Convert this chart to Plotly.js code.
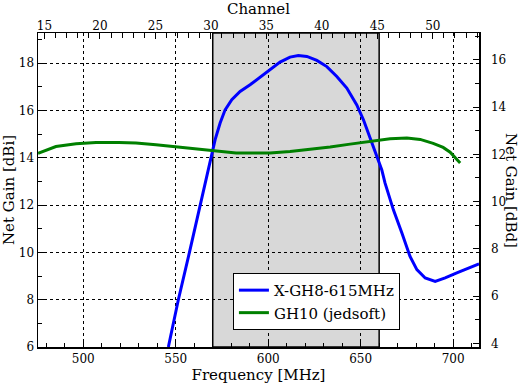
<!DOCTYPE html>
<html>
<head>
<meta charset="utf-8">
<script src="https://cdn.plot.ly/plotly-3.0.1.min.js"></script>
<style>html,body{margin:0;padding:0;background:#fff;}#chart{width:519px;height:386px;}</style>
</head>
<body>
<div id="chart"></div>
<script>
// X-GH8-615MHz net gain (dBi)
const freqBlue = [546, 551.4, 557.4, 563.1, 567.5, 571.3, 574, 576.7, 580.3, 584.8, 590.2, 595.6, 601, 606.4, 611.8, 616.3, 620.9, 626.3, 631.7, 637.1, 642.5, 647.9, 651.5, 655.1, 658.7, 661.4, 663.2, 667.7, 672.3, 676.7, 680.4, 684.9, 690.3, 695.7, 702, 707.4, 714];
const gainBlue = [6.0, 8.0, 10.0, 12.0, 13.55, 14.77, 15.47, 16.03, 16.46, 16.81, 17.09, 17.42, 17.72, 18.05, 18.26, 18.33, 18.29, 18.12, 17.86, 17.44, 16.95, 16.24, 15.61, 14.84, 14.13, 13.5, 12.93, 11.8, 10.82, 9.83, 9.27, 8.92, 8.77, 8.92, 9.13, 9.3, 9.52];
// GH10 (jedsoft) net gain (dBi)
const freqGreen = [475.5, 485.2, 496.1, 506.9, 519.3, 528.5, 539.3, 550.2, 561, 571.8, 582.6, 591.8, 601, 611.8, 622.6, 633.5, 644.3, 655.1, 665.9, 675, 682.2, 689.2, 694.6, 698.4, 703.8];
const gainGreen = [14.19, 14.48, 14.6, 14.65, 14.65, 14.63, 14.55, 14.46, 14.37, 14.27, 14.21, 14.2, 14.2, 14.27, 14.36, 14.46, 14.58, 14.69, 14.81, 14.84, 14.78, 14.61, 14.44, 14.24, 13.78];
const seriesNames = ["X-GH8-615MHz", "GH10 (jedsoft)"];
const bandEdges = [570, 660];
const freqRange = [475.5, 714];
const dBiRange = [6, 19.28];
const dBiToDBd = 2.15;
// UHF channel n centre frequency = 389 + 6n MHz
const chanToFreqOffset = 389, chanWidth = 6;

const chanRange = freqRange.map(f => (f - chanToFreqOffset) / chanWidth);
const dBdRange = dBiRange.map(v => v - dBiToDBd);

const font = "DejaVu Serif, serif";
const axBase = {
  showline: true, linecolor: "#000", linewidth: 1.5,
  ticks: "inside", ticklen: 6, tickwidth: 1, tickcolor: "#000",
  tickfont: {family: font, size: 12, color: "#000"},
  zeroline: false, automargin: false, mirror: false
};

const traces = [
  {x: freqBlue, y: gainBlue, name: seriesNames[0], mode: "lines", line: {color: "#0000ff", width: 3}, xaxis: "x", yaxis: "y"},
  {x: freqGreen, y: gainGreen, name: seriesNames[1], mode: "lines", line: {color: "#008000", width: 3}, xaxis: "x", yaxis: "y"},
  // invisible helper so the channel (top) and dBd (right) axes are drawn
  {x: chanRange, y: dBdRange, mode: "markers", marker: {opacity: 0, size: 1}, showlegend: false, hoverinfo: "skip", xaxis: "x2", yaxis: "y2"}
];

const layout = {
  width: 519, height: 386,
  margin: {l: 38, r: 40, t: 33, b: 39},
  paper_bgcolor: "#fff", plot_bgcolor: "#fff",
  showlegend: true,
  legend: {
    x: 0.442, y: 0.236, xanchor: "left", yanchor: "top",
    bgcolor: "#fff", bordercolor: "#000", borderwidth: 1,
    font: {family: font, size: 15, color: "#000"},
    tracegroupgap: 0, itemwidth: 30
  },
  xaxis: Object.assign({}, axBase, {
    range: freqRange, dtick: 50, tick0: 500,
    minor: {dtick: 10, ticklen: 4, tickcolor: "#000", ticks: "inside"},
    showgrid: true, gridcolor: "#000", griddash: "dot", gridwidth: 1,
    ticklabelstandoff: 0,
    title: {text: "Frequency [MHz]", font: {family: font, size: 15, color: "#000"}, standoff: 2}
  }),
  yaxis: Object.assign({}, axBase, {
    range: dBiRange, dtick: 2, tick0: 0,
    minor: {dtick: 1, ticklen: 4, tickcolor: "#000", ticks: "inside"},
    showgrid: true, gridcolor: "#000", griddash: "dot", gridwidth: 1,
    ticklabelstandoff: 0,
    title: {text: "Net Gain [dBi]", font: {family: font, size: 15, color: "#000"}, standoff: 4}
  }),
  xaxis2: Object.assign({}, axBase, {
    overlaying: "x", side: "top", anchor: "y",
    range: chanRange, dtick: 5, tick0: 0,
    minor: {dtick: 1, ticklen: 5, tickcolor: "#000", ticks: "inside"},
    showgrid: false,
    ticklabelstandoff: -3,
    title: {text: "Channel", font: {family: font, size: 15, color: "#000"}, standoff: 0}
  }),
  yaxis2: Object.assign({}, axBase, {
    overlaying: "y", side: "right", anchor: "x",
    range: dBdRange, dtick: 2, tick0: 0,
    minor: {dtick: 1, ticklen: 4, tickcolor: "#000", ticks: "inside"},
    showgrid: false,
    ticklabelstandoff: 8
  }),
  annotations: [{
    // right axis title, reading top-to-bottom as in the original
    text: "Net Gain [dBd]", textangle: 90,
    xref: "paper", yref: "paper", x: 1.0726, y: 0.5,
    xanchor: "center", yanchor: "middle", showarrow: false,
    font: {family: font, size: 15, color: "#000"}
  }],
  shapes: [{
    type: "rect", xref: "x", yref: "paper",
    x0: bandEdges[0], x1: bandEdges[1], y0: 0, y1: 1,
    fillcolor: "#d8d8d8", line: {color: "#000", width: 1.5}, layer: "below"
  }]
};

Plotly.newPlot("chart", traces, layout, {staticPlot: true, displayModeBar: false});
</script>
</body>
</html>
